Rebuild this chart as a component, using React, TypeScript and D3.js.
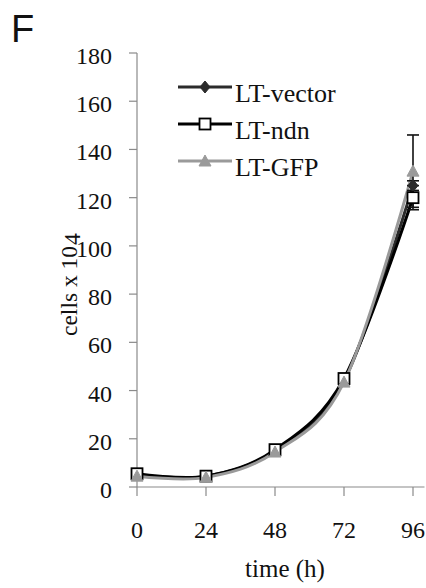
import * as d3 from 'd3';

// ─── Data ──────────────────────────────────────────────────

const timePoints = [0, 24, 48, 72, 96];
const vectorValues = [5, 4.5, 15, 44, 125];
const ndnValues = [5.5, 4.5, 15.5, 45, 120];
const gfpValues = [4.5, 4, 14.5, 43.5, 131];
const vectorErrors = [1, 1, 1, 1, 2];
const ndnErrors = [1, 1.5, 1, 1, 5];
const gfpErrors = [1, 1.5, 1, 1, 15];

const seriesNames = ['LT-vector', 'LT-ndn', 'LT-GFP'];
const yTicks = [0, 20, 40, 60, 80, 100, 120, 140, 160, 180];
const xTicks = [0, 24, 48, 72, 96];

// ─── Layout ────────────────────────────────────────────────

const W = 426;
const H = 588;
const x = d3.scaleLinear().domain([0, 100]).range([137, 424.5]);
const y = d3.scaleLinear().domain([0, 180]).range([487, 53]);

const serif = '"Liberation Serif", "Times New Roman", serif';
const axisColor = '#8a8a8a';

const series = [
  { name: seriesNames[0], values: vectorValues, errors: vectorErrors, color: '#2b2b2b', marker: 'diamond' },
  { name: seriesNames[1], values: ndnValues, errors: ndnErrors, color: '#000000', marker: 'square' },
  { name: seriesNames[2], values: gfpValues, errors: gfpErrors, color: '#9a9a9a', marker: 'triangle' },
];

const line = d3
  .line<number>()
  .x((_, i) => x(timePoints[i]))
  .y((d) => y(d))
  .curve(d3.curveCatmullRom.alpha(0));

function Marker({ kind, cx, cy, color }: { kind: string; cx: number; cy: number; color: string }) {
  if (kind === 'diamond') {
    return (
      <path
        d={`M${cx},${cy - 6}L${cx + 5},${cy}L${cx},${cy + 6}L${cx - 5},${cy}Z`}
        fill={color}
        stroke={color}
        strokeWidth={1}
      />
    );
  }
  if (kind === 'square') {
    return <rect x={cx - 5.5} y={cy - 5.5} width={11} height={11} fill="#fff" stroke="#000" strokeWidth={1.8} />;
  }
  return (
    <path
      d={`M${cx},${cy - 6}L${cx + 6},${cy + 5}L${cx - 6},${cy + 5}Z`}
      fill={color}
      stroke={color}
      strokeWidth={1}
    />
  );
}

export default function App() {
  const legendY = [87, 124, 161];

  return (
    <svg
      width={W}
      height={H}
      style={{ position: 'absolute', left: 0, top: 0, background: '#fff' }}
    >
      <rect width={W} height={H} fill="#fff" />

      {/* Panel letter */}
      <text x={11} y={42} fontFamily='"Liberation Sans", Arial, sans-serif' fontSize={38} fill="#111">
        F
      </text>

      {/* Y axis */}
      <line x1={x(0)} x2={x(0)} y1={y(180)} y2={y(0)} stroke={axisColor} strokeWidth={1.2} />
      {yTicks.map((t) => (
        <g key={`y${t}`}>
          <line x1={x(0) - 8} x2={x(0)} y1={y(t)} y2={y(t)} stroke={axisColor} strokeWidth={1.2} />
          <text x={112} y={y(t) + 11} textAnchor="end" fontFamily={serif} fontSize={24} fill="#111">
            {t}
          </text>
        </g>
      ))}

      {/* X axis */}
      <line x1={x(0)} x2={x(100)} y1={y(0)} y2={y(0)} stroke={axisColor} strokeWidth={1.2} />
      {xTicks.map((t) => (
        <g key={`x${t}`}>
          <line x1={x(t)} x2={x(t)} y1={y(0)} y2={y(0) + 9} stroke={axisColor} strokeWidth={1.2} />
          <text x={x(t)} y={538} textAnchor="middle" fontFamily={serif} fontSize={24} fill="#111">
            {t}
          </text>
        </g>
      ))}

      {/* Axis titles */}
      <text x={285} y={577} textAnchor="middle" fontFamily={serif} fontSize={25} fill="#111">
        time (h)
      </text>
      <text
        transform="translate(77,336) rotate(-90)"
        fontFamily={serif}
        fontSize={23.5}
        fill="#111"
      >
        cells x 10
        <tspan dx={1} dy={3}>4</tspan>
      </text>

      {/* Lines */}
      {series.map((s) => (
        <path key={`l${s.name}`} d={line(s.values) ?? ''} fill="none" stroke={s.color} strokeWidth={3} />
      ))}

      {/* Error bars */}
      {series.map((s) =>
        s.values.map((v, i) => {
          const cx = x(timePoints[i]);
          const top = y(v + s.errors[i]);
          const bot = y(v - s.errors[i]);
          return (
            <g key={`e${s.name}${i}`} stroke="#111" strokeWidth={1.6}>
              <line x1={cx} x2={cx} y1={top} y2={bot} />
              <line x1={cx - 6} x2={cx + 6} y1={top} y2={top} />
              <line x1={cx - 6} x2={cx + 6} y1={bot} y2={bot} />
            </g>
          );
        })
      )}

      {/* Markers */}
      {series.map((s) =>
        s.values.map((v, i) => (
          <Marker key={`m${s.name}${i}`} kind={s.marker} cx={x(timePoints[i])} cy={y(v)} color={s.color} />
        ))
      )}

      {/* Legend */}
      {series.map((s, i) => (
        <g key={`lg${s.name}`}>
          <line x1={178} x2={232} y1={legendY[i]} y2={legendY[i]} stroke={s.color} strokeWidth={3} />
          <Marker kind={s.marker} cx={205} cy={legendY[i]} color={s.color} />
          <text x={235} y={legendY[i] + 15} fontFamily={serif} fontSize={26} fill="#111">
            {s.name}
          </text>
        </g>
      ))}
    </svg>
  );
}
